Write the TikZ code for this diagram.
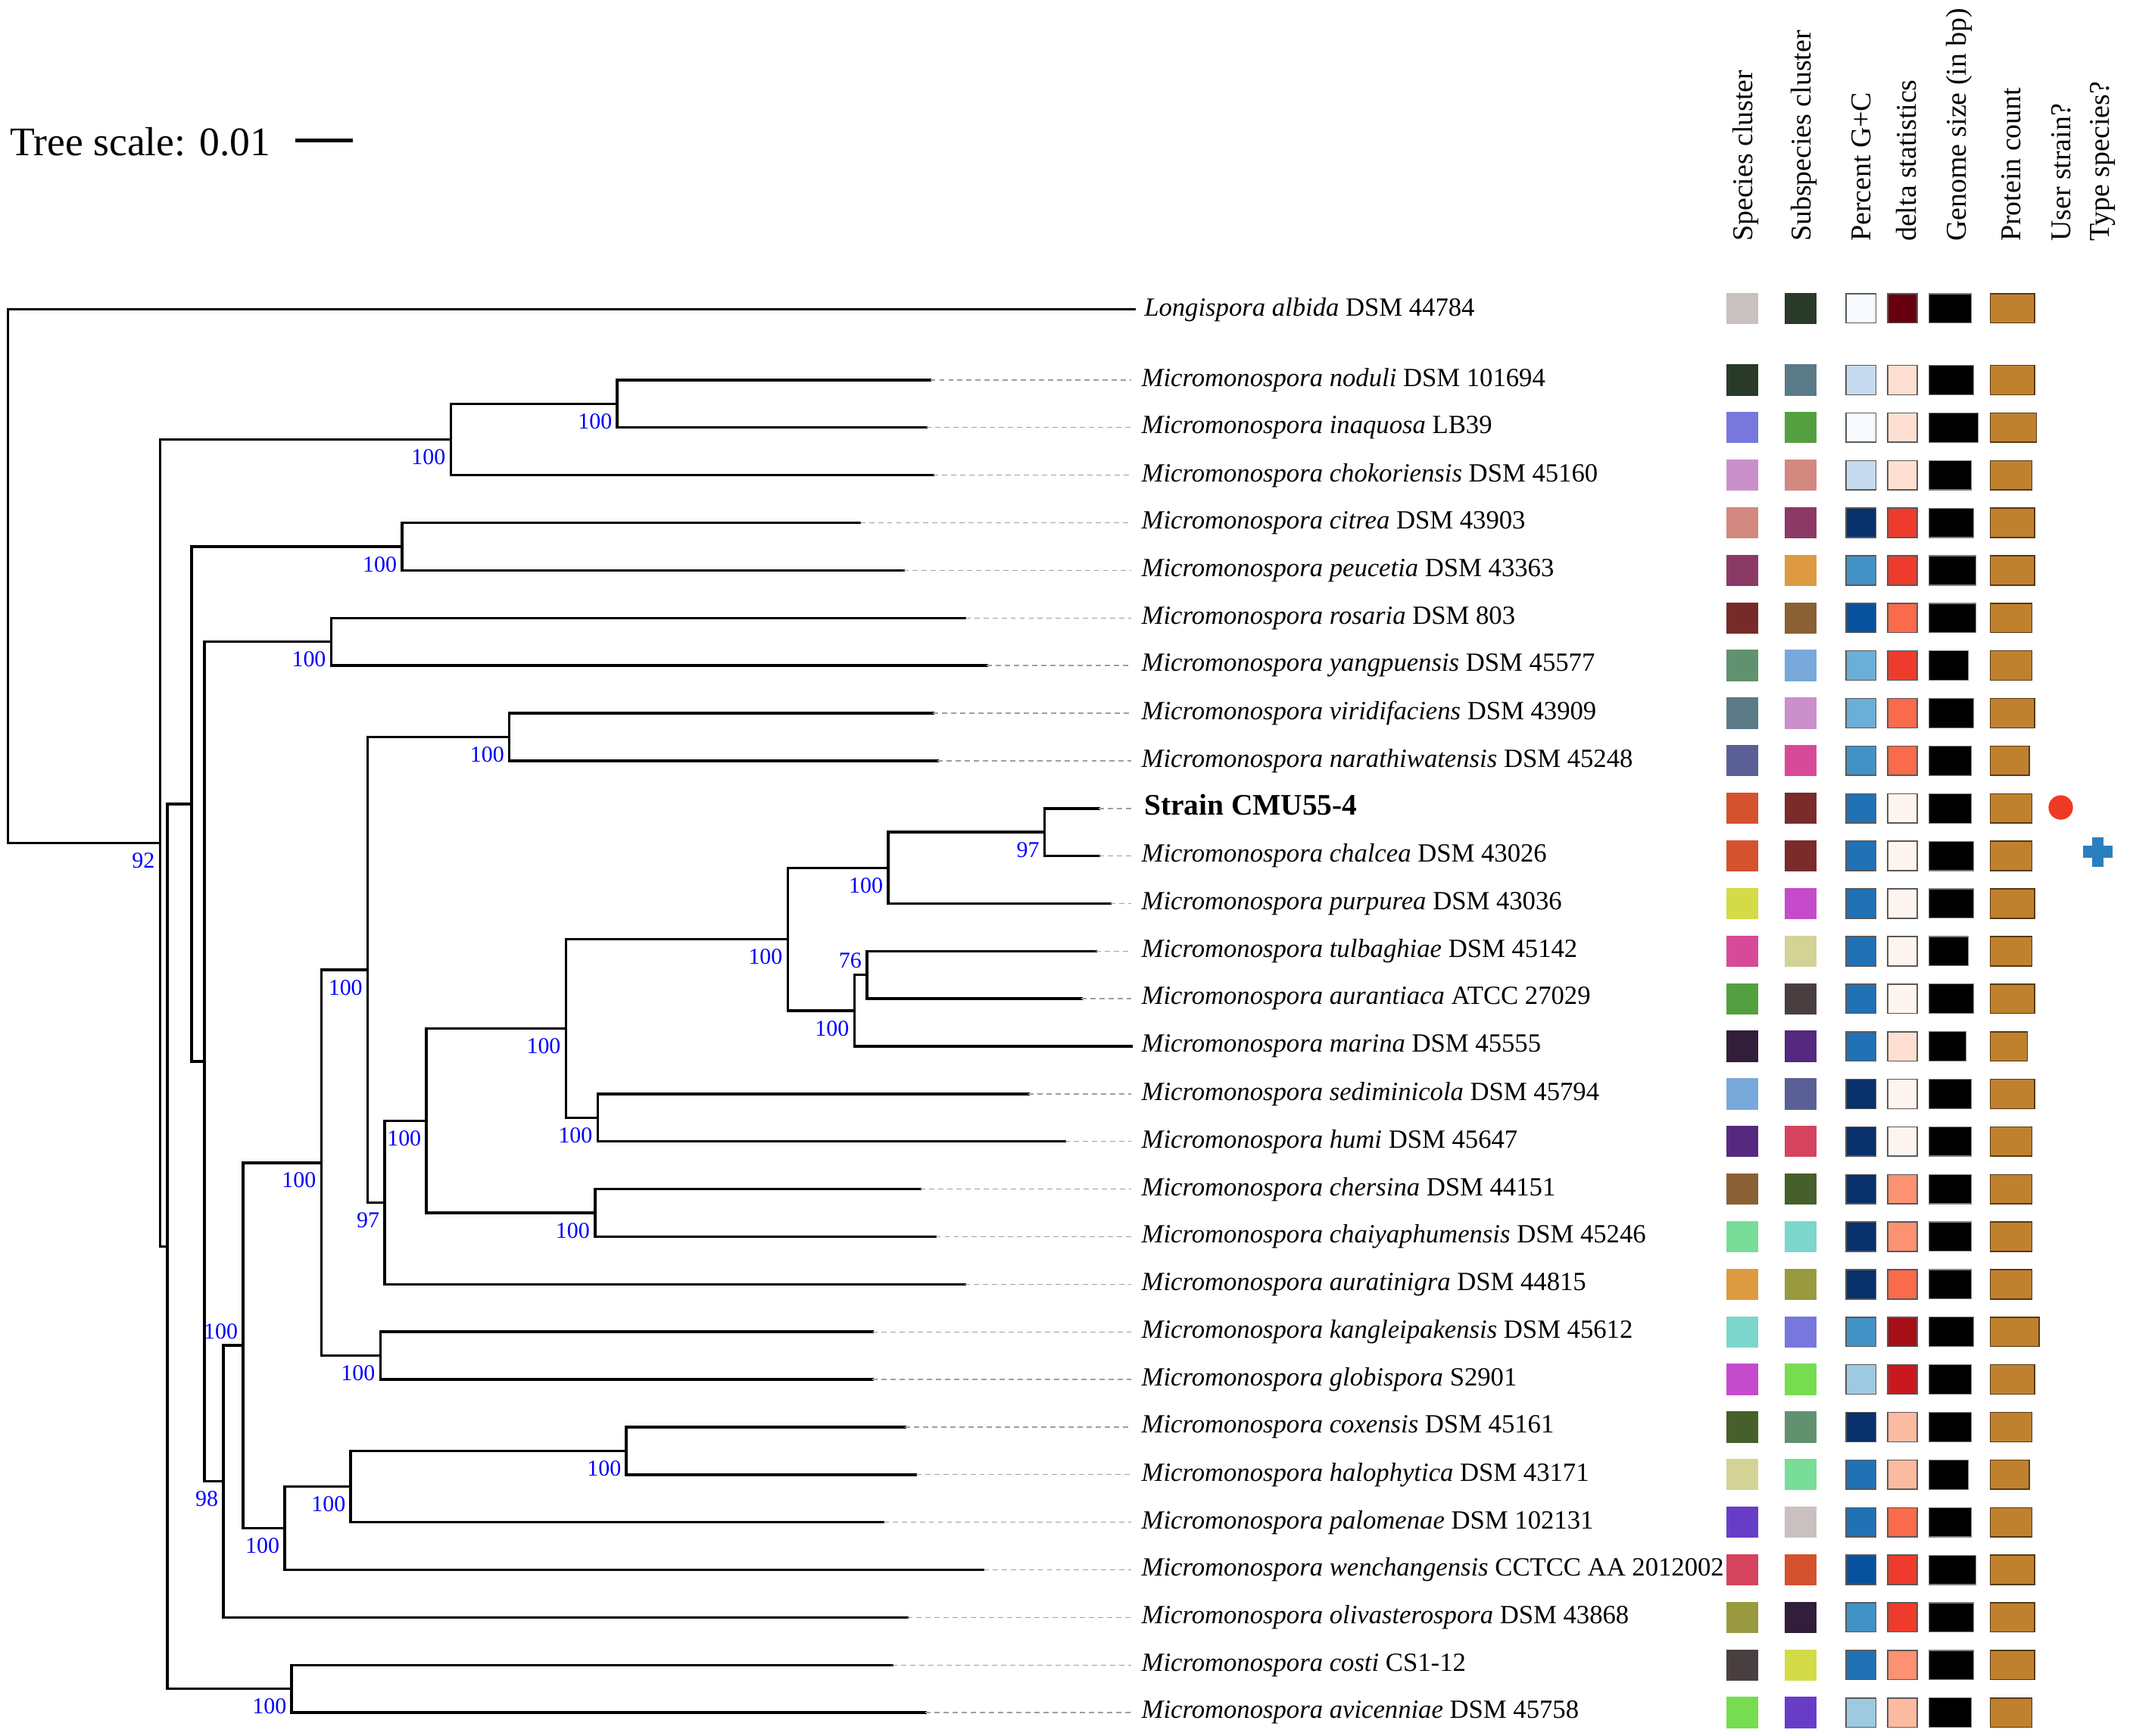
\documentclass[tikz,border=0pt]{standalone}
\usepackage{fontspec}
\setmainfont{Liberation Serif}
\usetikzlibrary{positioning,calc}

\definecolor{protein}{HTML}{C0812F}
\definecolor{userred}{HTML}{EE3A22}
\definecolor{typeblue}{HTML}{2A7FC0}

\tikzset{
  branch/.style={line width=1.1pt, line join=miter, line cap=rect},
  guide/.style={gray!75, line width=0.45pt, dash pattern=on 2.2pt off 1.6pt},
  leaf/.style={anchor=west, inner sep=4pt, font=\fontsize{11}{13}\selectfont},
  bs/.style={anchor=north east, inner sep=0pt, xshift=-2pt, yshift=-4pt, text=blue, font=\fontsize{9.5}{10}\selectfont},
  bsup/.style={anchor=south east, inner sep=0pt, xshift=-2pt, yshift=2.5pt, text=blue, font=\fontsize{9.5}{10}\selectfont},
  colhead/.style={rotate=90, anchor=base west, inner sep=0pt, font=\fontsize{12}{14}\selectfont},
}

% one row of the data strip: y, species, subspecies, G+C, delta, genome end, protein end
\newcommand{\striprow}[7]{%
  \definecolor{spc}{HTML}{#2}%
  \definecolor{ssp}{HTML}{#3}%
  \definecolor{pgc}{HTML}{#4}%
  \definecolor{dlt}{HTML}{#5}%
  \fill[spc] (1271,#1-11.5) rectangle (1294.2,#1+11.5);
  \fill[ssp] (1314,#1-11.5) rectangle (1337.4,#1+11.5);
  \filldraw[fill=pgc, draw=gray!70!black, line width=0.5pt] (1359,#1-10.8) rectangle (1381,#1+10.8);
  \filldraw[fill=dlt, draw=gray!70!black, line width=0.5pt] (1389.5,#1-10.8) rectangle (1411.3,#1+10.8);
  \filldraw[fill=black, draw=gray, line width=0.4pt] (1420,#1-10.8) rectangle (#6,#1+10.8);
  \filldraw[fill=protein, draw=protein!45!black, line width=0.5pt] (1465.2,#1-10.8) rectangle (#7,#1+10.8);
}

\begin{document}
\begin{tikzpicture}[x=0.02cm, y=-0.02cm]
\useasboundingbox (0,0) rectangle (1568,1278);

% scale
\node[anchor=base west, inner sep=0pt, font=\fontsize{17}{20}\selectfont] (tscale) at (7.4,114.3) {Tree scale: 0.01};
\coordinate (bar1) at (217.4,103.5);
\coordinate (bar2) at (259.8,103.5);
\draw[line width=1.5pt] (bar1) -- (bar2);

% column heads
\node[colhead] (h1) at (1290,178) {Species cluster};
\node[colhead] (h2) at (1333.2,178) {Subspecies cluster};
\node[colhead] (h3) at (1377.3,178) {Percent G+C};
\node[colhead] (h4) at (1410.3,178) {delta statistics};
\node[colhead] (h5) at (1447.3,178) {Genome size (in bp)};
\node[colhead] (h6) at (1487.4,178) {Protein count};
\node[colhead] (h7) at (1524.4,178) {User strain?};
\node[colhead] (h8) at (1552.4,178) {Type species?};

% leaf labels
\node[leaf] (lalb) at (835,227.8) {\textit{Longispora albida} DSM 44784};
\node[leaf] (nodu) at (833,279.8) {\textit{Micromonospora noduli} DSM 101694};
\node[leaf] (inaq) at (833,314.8) {\textit{Micromonospora inaquosa} LB39};
\node[leaf] (chok) at (833,349.9) {\textit{Micromonospora chokoriensis} DSM 45160};
\node[leaf] (citr) at (833,384.9) {\textit{Micromonospora citrea} DSM 43903};
\node[leaf] (peuc) at (833,420.0) {\textit{Micromonospora peucetia} DSM 43363};
\node[leaf] (rosa) at (833,455.0) {\textit{Micromonospora rosaria} DSM 803};
\node[leaf] (yang) at (833,490.0) {\textit{Micromonospora yangpuensis} DSM 45577};
\node[leaf] (viri) at (833,525.1) {\textit{Micromonospora viridifaciens} DSM 43909};
\node[leaf] (nara) at (833,560.1) {\textit{Micromonospora narathiwatensis} DSM 45248};
\node[leaf, text depth=3pt, font=\fontsize{12.5}{14}\selectfont\bfseries] (cmu) at (835,595.2) {Strain CMU55-4};
\node[leaf] (chal) at (833,630.2) {\textit{Micromonospora chalcea} DSM 43026};
\node[leaf] (purp) at (833,665.2) {\textit{Micromonospora purpurea} DSM 43036};
\node[leaf] (tulb) at (833,700.3) {\textit{Micromonospora tulbaghiae} DSM 45142};
\node[leaf] (aura) at (833,735.3) {\textit{Micromonospora aurantiaca} ATCC 27029};
\node[leaf] (mari) at (833,770.4) {\textit{Micromonospora marina} DSM 45555};
\node[leaf] (sedi) at (833,805.4) {\textit{Micromonospora sediminicola} DSM 45794};
\node[leaf] (humi) at (833,840.4) {\textit{Micromonospora humi} DSM 45647};
\node[leaf] (cher) at (833,875.5) {\textit{Micromonospora chersina} DSM 44151};
\node[leaf] (chai) at (833,910.5) {\textit{Micromonospora chaiyaphumensis} DSM 45246};
\node[leaf] (atng) at (833,945.6) {\textit{Micromonospora auratinigra} DSM 44815};
\node[leaf] (kang) at (833,980.6) {\textit{Micromonospora kangleipakensis} DSM 45612};
\node[leaf] (glob) at (833,1015.6) {\textit{Micromonospora globispora} S2901};
\node[leaf] (coxe) at (833,1050.7) {\textit{Micromonospora coxensis} DSM 45161};
\node[leaf] (halo) at (833,1085.7) {\textit{Micromonospora halophytica} DSM 43171};
\node[leaf] (palo) at (833,1120.8) {\textit{Micromonospora palomenae} DSM 102131};
\node[leaf] (wenc) at (833,1155.8) {\textit{Micromonospora wenchangensis} CCTCC AA 2012002};
\node[leaf] (oliv) at (833,1190.8) {\textit{Micromonospora olivasterospora} DSM 43868};
\node[leaf] (cost) at (833,1225.9) {\textit{Micromonospora costi} CS1-12};
\node[leaf] (avic) at (833,1260.9) {\textit{Micromonospora avicenniae} DSM 45758};

% branch tips
\coordinate (tnodu) at (684.8,279.8);
\coordinate (tinaq) at (681.6,314.8);
\coordinate (tchok) at (686.8,349.9);
\coordinate (tcitr) at (633,384.9);
\coordinate (tpeuc) at (665,420.0);
\coordinate (trosa) at (710.5,455.0);
\coordinate (tyang) at (726.5,490.0);
\coordinate (tviri) at (686.8,525.1);
\coordinate (tnara) at (690,560.1);
\coordinate (tcmu) at (808.7,595.2);
\coordinate (tchal) at (808.7,630.2);
\coordinate (tpurp) at (817.3,665.2);
\coordinate (ttulb) at (806.8,700.3);
\coordinate (taura) at (795.9,735.3);
\coordinate (tsedi) at (756.9,805.4);
\coordinate (thumi) at (784,840.4);
\coordinate (tcher) at (677.5,875.5);
\coordinate (tchai) at (688.7,910.5);
\coordinate (tatng) at (710.2,945.6);
\coordinate (tkang) at (642.3,980.6);
\coordinate (tglob) at (642.3,1015.6);
\coordinate (tcoxe) at (666.3,1050.7);
\coordinate (thalo) at (674.3,1085.7);
\coordinate (tpalo) at (650.3,1120.8);
\coordinate (twenc) at (723.9,1155.8);
\coordinate (toliv) at (667.9,1190.8);
\coordinate (tcost) at (656.7,1225.9);
\coordinate (tavic) at (681.3,1260.9);

% inner nodes
\coordinate (nR) at (5.8,424.2);
\coordinate (n92) at (117.8,620.65);
\coordinate (nA) at (331.8,323.6);
\coordinate (nA1) at (454.4,297.3);
\coordinate (nB) at (123.2,917.7);
\coordinate (nCA) at (214.7,1243.4);
\coordinate (nC) at (141.1,592);
\coordinate (nD) at (296,402.45);
\coordinate (nE) at (150.4,781.6);
\coordinate (nF) at (243.8,472.5);
\coordinate (nG) at (164.5,1090.7);
\coordinate (nH) at (178.9,990.6);
\coordinate (nI) at (236.5,856.05);
\coordinate (nM) at (270.7,714);
\coordinate (nO) at (375,542.6);
\coordinate (nP) at (283.2,885.35);
\coordinate (nQ) at (313.9,825.1);
\coordinate (nS) at (416.6,757.2);
\coordinate (nU) at (579.9,691.5);
\coordinate (nW) at (653.8,638.95);
\coordinate (nY) at (769,612.7);
\coordinate (nX) at (628.9,744.1);
\coordinate (nZ) at (638.1,717.8);
\coordinate (nV) at (440,822.9);
\coordinate (nT) at (438,893);
\coordinate (nN) at (280,998.1);
\coordinate (nJ) at (209.6,1125.15);
\coordinate (nK) at (258.2,1094.5);
\coordinate (nL) at (461.1,1068.2);

% tree
\draw[branch] (nR) |- (lalb.west);
\draw[branch] (nR) |- (n92);
\draw[branch] (n92) |- (nA);
\draw[branch] (n92) |- (nB);
\draw[branch] (nA) |- (nA1);
\draw[branch] (nA) |- (tchok);
\draw[branch] (nA1) |- (tnodu);
\draw[branch] (nA1) |- (tinaq);
\draw[branch] (nB) |- (nC);
\draw[branch] (nB) |- (nCA);
\draw[branch] (nCA) |- (tcost);
\draw[branch] (nCA) |- (tavic);
\draw[branch] (nC) |- (nD);
\draw[branch] (nC) |- (nE);
\draw[branch] (nD) |- (tcitr);
\draw[branch] (nD) |- (tpeuc);
\draw[branch] (nE) |- (nF);
\draw[branch] (nE) |- (nG);
\draw[branch] (nF) |- (trosa);
\draw[branch] (nF) |- (tyang);
\draw[branch] (nG) |- (nH);
\draw[branch] (nG) |- (toliv);
\draw[branch] (nH) |- (nI);
\draw[branch] (nH) |- (nJ);
\draw[branch] (nI) |- (nM);
\draw[branch] (nI) |- (nN);
\draw[branch] (nM) |- (nO);
\draw[branch] (nM) |- (nP);
\draw[branch] (nO) |- (tviri);
\draw[branch] (nO) |- (tnara);
\draw[branch] (nP) |- (nQ);
\draw[branch] (nP) |- (tatng);
\draw[branch] (nQ) |- (nS);
\draw[branch] (nQ) |- (nT);
\draw[branch] (nS) |- (nU);
\draw[branch] (nS) |- (nV);
\draw[branch] (nU) |- (nW);
\draw[branch] (nU) |- (nX);
\draw[branch] (nW) |- (nY);
\draw[branch] (nW) |- (tpurp);
\draw[branch] (nY) |- (tcmu);
\draw[branch] (nY) |- (tchal);
\draw[branch] (nX) |- (nZ);
\draw[branch] (nX) |- (mari.west);
\draw[branch] (nZ) |- (ttulb);
\draw[branch] (nZ) |- (taura);
\draw[branch] (nV) |- (tsedi);
\draw[branch] (nV) |- (thumi);
\draw[branch] (nT) |- (tcher);
\draw[branch] (nT) |- (tchai);
\draw[branch] (nN) |- (tkang);
\draw[branch] (nN) |- (tglob);
\draw[branch] (nJ) |- (nK);
\draw[branch] (nJ) |- (twenc);
\draw[branch] (nK) |- (nL);
\draw[branch] (nK) |- (tpalo);
\draw[branch] (nL) |- (tcoxe);
\draw[branch] (nL) |- (thalo);

% dotted guides to the labels
\draw[guide] (tnodu) -- (nodu.west);
\draw[guide] (tinaq) -- (inaq.west);
\draw[guide] (tchok) -- (chok.west);
\draw[guide] (tcitr) -- (citr.west);
\draw[guide] (tpeuc) -- (peuc.west);
\draw[guide] (trosa) -- (rosa.west);
\draw[guide] (tyang) -- (yang.west);
\draw[guide] (tviri) -- (viri.west);
\draw[guide] (tnara) -- (nara.west);
\draw[guide] (tcmu) -- (cmu.west);
\draw[guide] (tchal) -- (chal.west);
\draw[guide] (tpurp) -- (purp.west);
\draw[guide] (ttulb) -- (tulb.west);
\draw[guide] (taura) -- (aura.west);
\draw[guide] (tsedi) -- (sedi.west);
\draw[guide] (thumi) -- (humi.west);
\draw[guide] (tcher) -- (cher.west);
\draw[guide] (tchai) -- (chai.west);
\draw[guide] (tatng) -- (atng.west);
\draw[guide] (tkang) -- (kang.west);
\draw[guide] (tglob) -- (glob.west);
\draw[guide] (tcoxe) -- (coxe.west);
\draw[guide] (thalo) -- (halo.west);
\draw[guide] (tpalo) -- (palo.west);
\draw[guide] (twenc) -- (wenc.west);
\draw[guide] (toliv) -- (oliv.west);
\draw[guide] (tcost) -- (cost.west);
\draw[guide] (tavic) -- (avic.west);

% bootstrap values
\node[bs] at (n92) {92};
\node[bs] at (nA) {100};
\node[bs] at (nA1) {100};
\node[bs] at (nCA) {100};
\node[bs] at (nD) {100};
\node[bs] at (nF) {100};
\node[bs] at (nG) {98};
\node[bsup] at (nH) {100};
\node[bs] at (nI) {100};
\node[bs] at (nM) {100};
\node[bs] at (nO) {100};
\node[bs] at (nP) {97};
\node[bs] at (nQ) {100};
\node[bs] at (nS) {100};
\node[bs] at (nU) {100};
\node[bs] at (nW) {100};
\node[bs] at (nY) {97};
\node[bs] at (nX) {100};
\node[bsup] at (nZ) {76};
\node[bs] at (nV) {100};
\node[bs] at (nT) {100};
\node[bs] at (nN) {100};
\node[bs] at (nJ) {100};
\node[bs] at (nK) {100};
\node[bs] at (nL) {100};

% data strip
\striprow{227}{C9C0C0}{2A3A28}{F7FBFF}{67000D}{1451}{1497.8}
\striprow{279.8}{2A3A28}{5B7A87}{C6DBEF}{FEE0D2}{1452.8}{1497.8}
\striprow{314.8}{7777DD}{54A040}{F7FBFF}{FEE0D2}{1456.4}{1499.2}
\striprow{349.9}{C990CC}{D38880}{C6DBEF}{FEE0D2}{1451}{1495.8}
\striprow{384.9}{D38880}{8B3A66}{08306B}{EF3B2C}{1452.8}{1497.8}
\striprow{420.0}{8B3A66}{DD9A40}{4292C6}{EF3B2C}{1454.6}{1497.8}
\striprow{455.0}{762A2A}{8A6035}{08519C}{FB6A4A}{1454.6}{1495.8}
\striprow{490.0}{619270}{79A9DA}{6BAED6}{EF3B2C}{1449}{1495.8}
\striprow{525.1}{5B7A87}{C990CC}{6BAED6}{FB6A4A}{1452.8}{1497.8}
\striprow{560.1}{5A6096}{D74A9A}{4292C6}{FB6A4A}{1451}{1494}
\striprow{595.2}{D4522E}{7A2B2B}{2171B5}{FFF5F0}{1451}{1495.8}
\striprow{630.2}{D4522E}{7A2B2B}{2171B5}{FFF5F0}{1452.8}{1495.8}
\striprow{665.2}{D3DB47}{C64ACC}{2171B5}{FFF5F0}{1452.8}{1497.8}
\striprow{700.3}{D74A9A}{D3D396}{2171B5}{FFF5F0}{1449}{1495.8}
\striprow{735.3}{54A040}{4A3F40}{2171B5}{FFF5F0}{1452.8}{1497.8}
\striprow{770.4}{321E3A}{55297F}{2171B5}{FEE0D2}{1447.3}{1492.4}
\striprow{805.4}{79A9DA}{5A6096}{08306B}{FFF5F0}{1451}{1497.8}
\striprow{840.4}{55297F}{D5435F}{08306B}{FFF5F0}{1451}{1495.8}
\striprow{875.5}{8A6035}{475F2A}{08306B}{FC9272}{1451}{1495.8}
\striprow{910.5}{78DD98}{7DD6CC}{08306B}{FC9272}{1451}{1495.8}
\striprow{945.6}{DD9A40}{999A40}{08306B}{FB6A4A}{1451}{1495.8}
\striprow{980.6}{7DD6CC}{7777DD}{4292C6}{A50F15}{1452.8}{1501.2}
\striprow{1015.6}{C64ACC}{77DD50}{9ECAE1}{CB181D}{1451}{1497.8}
\striprow{1050.7}{475F2A}{619270}{08306B}{FCBBA1}{1451}{1495.8}
\striprow{1085.7}{D3D396}{78DD98}{2171B5}{FCBBA1}{1449}{1494}
\striprow{1120.8}{673DC8}{C9C0C0}{2171B5}{FB6A4A}{1451}{1495.8}
\striprow{1155.8}{D5435F}{D4522E}{08519C}{EF3B2C}{1454.6}{1497.8}
\striprow{1190.8}{999A40}{321E3A}{4292C6}{EF3B2C}{1452.8}{1497.8}
\striprow{1225.9}{4A3F40}{D3DB47}{2171B5}{FC9272}{1452.8}{1497.8}
\striprow{1260.9}{77DD50}{673DC8}{9ECAE1}{FCBBA1}{1451}{1495.8}

% user strain and type species marks
\fill[userred] (1517,594.5) circle (0.18cm);
\fill[typeblue] (1533.4,622.7) rectangle (1555,631.7);
\fill[typeblue] (1540,616.4) rectangle (1548.4,638);

\end{tikzpicture}
\end{document}
